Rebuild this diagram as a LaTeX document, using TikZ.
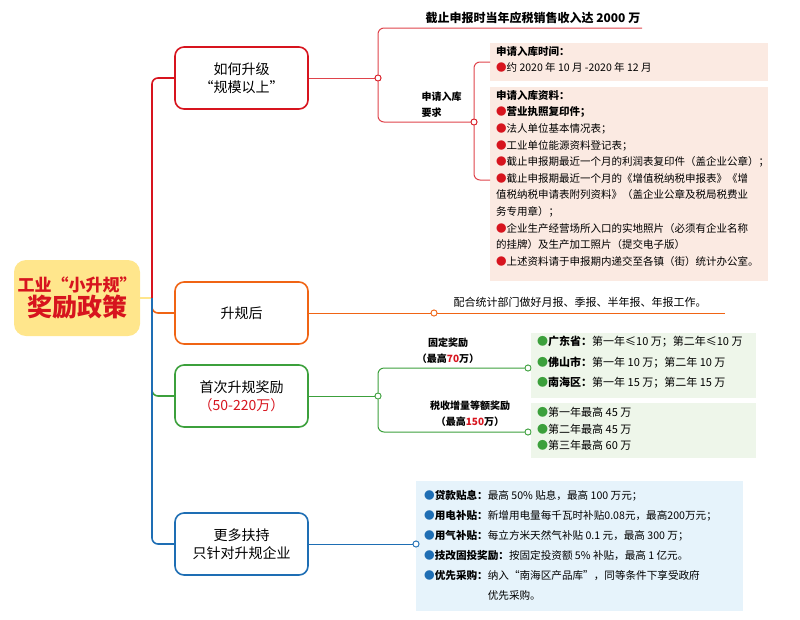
\documentclass[tikz,border=0pt]{standalone}
\usepackage{fontspec}
\setmainfont{Noto Sans CJK SC}
\usetikzlibrary{positioning}
\definecolor{cred}{HTML}{D7141E}
\definecolor{corange}{HTML}{F06414}
\definecolor{cgreen}{HTML}{3CA03C}
\definecolor{cblue}{HTML}{1E6EB4}
\definecolor{pinkbg}{HTML}{FBEAE2}
\definecolor{greenbg}{HTML}{EEF6EA}
\definecolor{bluebg}{HTML}{E6F3FB}
\definecolor{rootbg}{HTML}{FFE68C}
\newcommand{\rb}{{\color{cred}●}}
\newcommand{\gb}{{\color{cgreen}●}}
\newcommand{\bb}{{\color{cblue}●}}
\tikzset{
  branchbox/.style={draw, line width=1.6pt, rounded corners=9pt, minimum width=133pt,
    minimum height=62pt, align=center, font=\fontsize{14}{18}\selectfont, fill=white},
  knot/.style={circle, draw, fill=white, line width=0.8pt, inner sep=0pt, minimum size=6pt},
  infobox/.style={anchor=north west, align=left, inner sep=4pt,
    font=\fontsize{10.5}{16.6}\selectfont},
  small/.style={font=\fontsize{10}{16}\selectfont\bfseries, align=center},
}
\begin{document}
\begin{tikzpicture}[x=1pt,y=-1pt]
\useasboundingbox (0,0) rectangle (800,619);
% root
\node[fill=rootbg, rounded corners=12pt, minimum width=126pt, minimum height=76pt,
  align=center, text=cred, font=\bfseries] (root) at (77,298)
  {{\fontsize{17}{22}\selectfont 工业“小升规”}\\{\fontsize{25}{28}\selectfont 奖励政策}};
\coordinate (trunk) at (152,298);
\draw[rootbg, line width=1.6pt] (root.east) -- (trunk);
% branch boxes
\node[branchbox, draw=cred] (grow) at (241.5,78) {如何升级\\“规模以上”};
\node[branchbox, draw=corange] (after) at (241.5,313) {升规后};
\node[branchbox, draw=cgreen] (reward) at (241.5,396) {首次升规奖励\\{\color{cred}（50-220万）}};
\node[branchbox, draw=cblue] (more) at (241.5,544) {更多扶持\\只针对升规企业};
\begin{scope}[line width=1.6pt, rounded corners=6pt]
\draw[cred] (trunk) |- (grow.west);
\draw[corange] (trunk) |- (after.west);
\draw[cgreen] (trunk) |- (reward.west);
\draw[cblue] (trunk) |- (more.west);
\end{scope}
% red branch
\node[knot, draw=cred] (k1) at (378,78) {};
\node[knot, draw=cred] (k2) at (474,122) {};
\node[small, anchor=south west, font=\fontsize{12}{14}\selectfont\bfseries] (sales) at (422,27) {截止申报时当年应税销售收入达 2000 万};
\node[small, anchor=south west, align=left] (req) at (418,121) {申请入库\\要求};
\fill[pinkbg] (490,43) rectangle (768,81);
\fill[pinkbg] (490,87) rectangle (768,281);
\node[infobox] (time) at (492,42) {\textbf{申请入库时间：}\\\rb 约 2020 年 10 月 -2020 年 12 月};
\node[infobox] (docs) at (492,86) {\textbf{申请入库资料：}\\
\rb\textbf{营业执照复印件；}\\
\rb 法人单位基本情况表；\\
\rb 工业单位能源资料登记表；\\
\rb 截止申报期最近一个月的利润表复印件（盖企业公章）；\\
\rb 截止申报期最近一个月的《增值税纳税申报表》《增\\
值税纳税申请表附列资料》（盖企业公章及税局税费业\\
务专用章）；\\
\rb 企业生产经营场所入口的实地照片（必须有企业名称\\
的挂牌）及生产加工照片（提交电子版）\\
\rb 上述资料请于申报期内递交至各镇（街）统计办公室。};
\begin{scope}[cred!80, line width=1pt, rounded corners=6pt]
\draw (grow.east) -- (k1);
\draw (k1) |- (642,28);
\draw (k1) |- (k2);
\draw (k2) |- (490,62);
\draw (k2) |- (490,180);
\end{scope}
\node[knot, draw=cred] at (378,78) {};
\node[knot, draw=cred] at (474,122) {};
% orange branch
\node[knot, draw=corange] (k3) at (434,313) {};
\node[small, anchor=south, font=\fontsize{11}{14}\selectfont] (report) at (580,311) {配合统计部门做好月报、季报、半年报、年报工作。};
\draw[corange, line width=1pt] (after.east) -- (k3) -- (725,313);
\node[knot, draw=corange] at (434,313) {};
% green branch
\node[knot, draw=cgreen] (k4) at (378,396) {};
\node[knot, draw=cgreen] (k5) at (528,368) {};
\node[knot, draw=cgreen] (k6) at (528,432) {};
\node[small] (fixed) at (448,351) {固定奖励\\（最高{\color{cred}70}万）};
\node[small] (taxinc) at (470,414) {税收增量等额奖励\\（最高{\color{cred}150}万）};
\fill[greenbg] (531,333) rectangle (756,398);
\fill[greenbg] (531,403) rectangle (756,458);
\node[infobox, font=\fontsize{11}{20.5}\selectfont] (fixlist) at (533,332)
  {\gb\textbf{广东省：}第一年≤10 万；第二年≤10 万\\\gb\textbf{佛山市：}第一年 10 万；第二年 10 万\\\gb\textbf{南海区：}第一年 15 万；第二年 15 万};
\node[infobox, font=\fontsize{11}{16.5}\selectfont] (inclist) at (533,403)
  {\gb 第一年最高 45 万\\\gb 第二年最高 45 万\\\gb 第三年最高 60 万};
\begin{scope}[cgreen, line width=1pt, rounded corners=6pt]
\draw (reward.east) -- (k4);
\draw (k4) |- (k5);
\draw (k4) |- (k6);
\end{scope}
\node[knot, draw=cgreen] at (378,396) {};
\node[knot, draw=cgreen] at (528,368) {};
\node[knot, draw=cgreen] at (528,432) {};
% blue branch
\fill[bluebg] (416,481) rectangle (743,611);
\node[knot, draw=cblue] (k7) at (416,544) {};
\draw[cblue, line width=1pt] (more.east) -- (k7);
\node[knot, draw=cblue] at (416,544) {};
\node[infobox, font=\fontsize{10.6}{20}\selectfont] (support) at (420,486)
  {\bb\textbf{贷款贴息：}最高 50\% 贴息，最高 100 万元；\\
\bb\textbf{用电补贴：}新增用电量每千瓦时补贴0.08元，最高200万元；\\
\bb\textbf{用气补贴：}每立方米天然气补贴 0.1 元，最高 300 万；\\
\bb\textbf{技改固投奖励：}按固定投资额 5\% 补贴，最高 1 亿元。\\
\bb\textbf{优先采购：}纳入“南海区产品库”，同等条件下享受政府\\
\phantom{\bb\textbf{优先采购：}}优先采购。};
\end{tikzpicture}
\end{document}
